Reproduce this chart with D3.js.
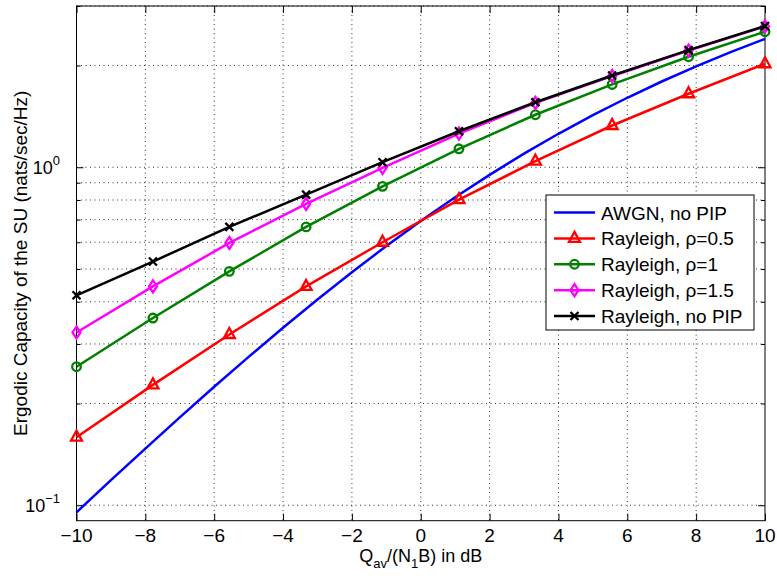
<!DOCTYPE html>
<html>
<head>
<meta charset="utf-8">
<script src="https://cdn.jsdelivr.net/npm/d3@7"></script>
<style>
  body { margin: 0; background: #fff; }
  svg text { font-family: "Liberation Sans", Arial, Helvetica, sans-serif; fill: #000; }
  .grid line { stroke: #333; stroke-width: 1; stroke-dasharray: 1,3.5; }
</style>
</head>
<body>
<svg id="chart" width="777" height="579"></svg>
<script>
// values
var xMarkers = [-10, -7.78, -5.56, -3.33, -1.11, 1.11, 3.33, 5.56, 7.78, 10];
var rho05 = [0.159, 0.227, 0.320, 0.444, 0.600, 0.802, 1.042, 1.329, 1.650, 2.024];
var rho1 = [0.257, 0.358, 0.492, 0.666, 0.878, 1.134, 1.430, 1.758, 2.123, 2.518];
var rho15 = [0.3245, 0.444, 0.597, 0.779, 0.996, 1.258, 1.551, 1.862, 2.215, 2.610];
var noPip = [0.418, 0.526, 0.666, 0.830, 1.035, 1.278, 1.557, 1.869, 2.221, 2.617];

var xAwgn = [-10, -9, -8, -7, -6, -5, -4, -3, -2, -1, 0, 1, 2, 3, 4, 5, 6, 7, 8, 9, 10];
var awgn = [0.0953, 0.1186, 0.1471, 0.1819, 0.2241, 0.2747, 0.3351, 0.4063, 0.4892, 0.5846,
            0.6931, 0.8149, 0.9497, 1.0970, 1.2562, 1.4260, 1.6056, 1.7937, 1.9892, 2.1909, 2.3979];

var xTicks = [-10, -8, -6, -4, -2, 0, 2, 4, 6, 8, 10];
var yMajor = [0.1, 1];
var yMinor = [0.2, 0.3, 0.4, 0.5, 0.6, 0.7, 0.8, 0.9, 2, 3];

var series = [
	{name: "AWGN, no PIP", color: "#0000ff", marker: null, xs: xAwgn, ys: awgn},
	{name: "Rayleigh, \u03c1=0.5", color: "#ff0000", marker: "tri", xs: xMarkers, ys: rho05},
	{name: "Rayleigh, \u03c1=1", color: "#008000", marker: "circle", xs: xMarkers, ys: rho1},
	{name: "Rayleigh, \u03c1=1.5", color: "#ff00ff", marker: "diamond", xs: xMarkers, ys: rho15},
	{name: "Rayleigh, no PIP", color: "#000000", marker: "x", xs: xMarkers, ys: noPip}
];

var pLeft = 76.5, pRight = 765, pTop = 6, pBottom = 520.7;
var svg = d3.select("#chart");

var x = d3.scaleLinear().domain([-10, 10]).range([pLeft, pRight]);
var y = d3.scaleLog().domain([0.09, 3]).range([pBottom, pTop]);

// grid
var grid = svg.append("g").attr("class", "grid");
grid.selectAll("line.gx").data(xTicks.slice(1, -1)).enter().append("line")
	.attr("x1", function(d) {return x(d);}).attr("x2", function(d) {return x(d);})
	.attr("y1", pTop).attr("y2", pBottom);
grid.selectAll("line.gy").data(yMajor.concat(yMinor)).enter().append("line")
	.attr("x1", pLeft).attr("x2", pRight)
	.attr("y1", function(d) {return y(d);}).attr("y2", function(d) {return y(d);});

// axes / ticks (inside, MATLAB box style)
function plain(sel) {
	sel.select(".domain").remove();
	sel.selectAll("line").attr("stroke", "#000");
}
svg.append("g").attr("transform", "translate(0," + pBottom + ")")
	.call(d3.axisBottom(x).tickValues(xTicks).tickSize(-7).tickFormat(""))
	.call(plain);
svg.append("g").attr("transform", "translate(0," + pTop + ")")
	.call(d3.axisTop(x).tickValues(xTicks).tickSize(-7).tickFormat(""))
	.call(plain);
svg.append("g").attr("transform", "translate(" + pLeft + ",0)")
	.call(d3.axisLeft(y).tickValues(yMajor).tickSize(-7).tickFormat(""))
	.call(plain);
svg.append("g").attr("transform", "translate(" + pLeft + ",0)")
	.call(d3.axisLeft(y).tickValues(yMinor).tickSize(-4).tickFormat(""))
	.call(plain);
svg.append("g").attr("transform", "translate(" + pRight + ",0)")
	.call(d3.axisRight(y).tickValues(yMajor).tickSize(-7).tickFormat(""))
	.call(plain);
svg.append("g").attr("transform", "translate(" + pRight + ",0)")
	.call(d3.axisRight(y).tickValues(yMinor).tickSize(-4).tickFormat(""))
	.call(plain);

svg.append("rect")
	.attr("x", pLeft).attr("y", pTop)
	.attr("width", pRight - pLeft).attr("height", pBottom - pTop)
	.attr("fill", "none").attr("stroke", "#000").attr("stroke-width", 1);

// tick labels
svg.selectAll("text.xt").data(xTicks).enter().append("text")
	.attr("x", function(d) {return x(d);})
	.attr("y", 542)
	.attr("text-anchor", "middle")
	.style("font-size", "19px")
	.text(function(d) {return d < 0 ? "\u2212" + Math.abs(d) : d;});

var yl = svg.selectAll("text.yt").data(yMajor).enter().append("text")
	.attr("x", 60)
	.attr("y", function(d) {return y(d) + 7;})
	.attr("text-anchor", "end")
	.style("font-size", "18px");
yl.append("tspan").text("10");
yl.append("tspan")
	.attr("dy", -9)
	.style("font-size", "13px")
	.text(function(d) {return d < 1 ? "\u22121" : "0";});

// axis titles
var xt = svg.append("text")
	.attr("x", x(0))
	.attr("y", 562)
	.attr("text-anchor", "middle")
	.style("font-size", "18px");
xt.append("tspan").text("Q");
xt.append("tspan").attr("dy", 6).style("font-size", "13px").text("av");
xt.append("tspan").attr("dy", -6).text("/(N");
xt.append("tspan").attr("dy", 6).style("font-size", "13px").text("1");
xt.append("tspan").attr("dy", -6).text("B) in dB");

svg.append("text")
	.attr("transform", "translate(27," + ((pTop + pBottom) / 2) + ") rotate(-90)")
	.attr("text-anchor", "middle")
	.style("font-size", "19px")
	.text("Ergodic Capacity of the SU (nats/sec/Hz)");

// markers
function drawMarker(g, type, color) {
	if (type == "tri") {
		g.append("path").attr("d", "M0,-6.5L5.5,3.5L-5.5,3.5Z")
			.attr("fill", "none").attr("stroke", color).attr("stroke-width", 2.3);
	} else if (type == "circle") {
		g.append("circle").attr("r", 4.3)
			.attr("fill", "none").attr("stroke", color).attr("stroke-width", 2.3);
	} else if (type == "diamond") {
		g.append("path").attr("d", "M0,-6L4,0L0,6L-4,0Z")
			.attr("fill", "none").attr("stroke", color).attr("stroke-width", 2.3);
	} else if (type == "x") {
		g.append("path").attr("d", "M-4,-4L4,4M-4,4L4,-4")
			.attr("fill", "none").attr("stroke", color).attr("stroke-width", 2.3);
	}
}

var line = d3.line()
	.x(function(d) {return x(d[0]);})
	.y(function(d) {return y(d[1]);});

var plot = svg.append("g");
series.forEach(function(s) {
	var pts = s.xs.map(function(v, i) {return [v, s.ys[i]];});
	plot.append("path")
		.datum(pts)
		.attr("d", line)
		.attr("fill", "none")
		.attr("stroke", s.color)
		.attr("stroke-width", 2.5);
	if (s.marker) {
		plot.selectAll(null).data(pts).enter().append("g")
			.attr("transform", function(d) {return "translate(" + x(d[0]) + "," + y(d[1]) + ")";})
			.each(function() {drawMarker(d3.select(this), s.marker, s.color);});
	}
});

// legend
var lg = svg.append("g");
lg.append("rect")
	.attr("x", 546).attr("y", 195)
	.attr("width", 208).attr("height", 135)
	.attr("fill", "#fff").attr("stroke", "#000").attr("stroke-width", 1);
var rowY = d3.scaleLinear().domain([0, 4]).range([212.5, 316]);
series.forEach(function(s, i) {
	var ry = rowY(i);
	lg.append("line")
		.attr("x1", 554).attr("x2", 595)
		.attr("y1", ry).attr("y2", ry)
		.attr("stroke", s.color).attr("stroke-width", 2.5);
	if (s.marker) {
		var g = lg.append("g").attr("transform", "translate(574.5," + ry + ")");
		drawMarker(g, s.marker, s.color);
	}
	lg.append("text")
		.attr("x", 601).attr("y", ry + 7)
		.style("font-size", "19px")
		.text(s.name);
});
</script>
</body>
</html>
